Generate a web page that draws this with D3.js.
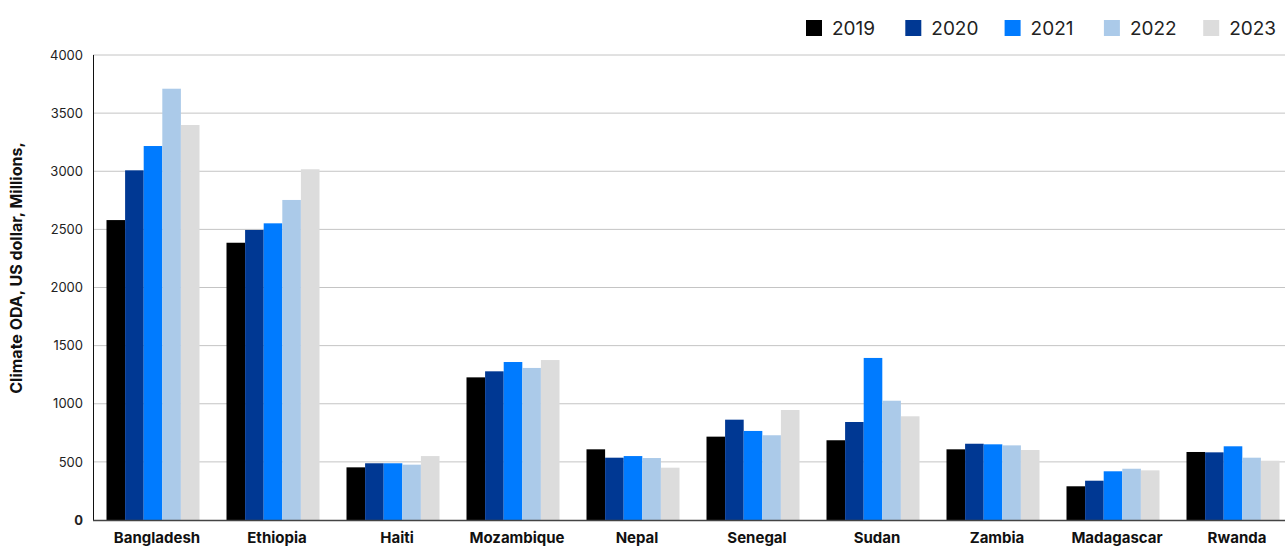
<!DOCTYPE html>
<html>
<head>
<meta charset="utf-8">
<script src="https://cdn.jsdelivr.net/npm/d3@7"></script>
<style>
  html, body { margin: 0; padding: 0; background: #fff; overflow: hidden; }
  svg { display: block; font-family: Inter, "Noto Sans", sans-serif; }
</style>
</head>
<body>
<svg id="chart" width="1285" height="548"></svg>
<script>
// Climate ODA by recipient country, US dollar millions
const countries = ["Bangladesh", "Ethiopia", "Haiti", "Mozambique", "Nepal",
                   "Senegal", "Sudan", "Zambia", "Madagascar", "Rwanda"];
const years = ["2019", "2020", "2021", "2022", "2023"];
const values2019 = [2580, 2385, 453, 1227, 608, 717, 686, 608, 290, 585];
const values2020 = [3008, 2495, 488, 1279, 536, 863, 843, 656, 338, 582];
const values2021 = [3217, 2552, 488, 1359, 550, 766, 1394, 651, 419, 634];
const values2022 = [3710, 2753, 476, 1308, 533, 729, 1026, 642, 441, 536];
const values2023 = [3398, 3017, 550, 1376, 450, 946, 892, 602, 427, 510];
const yTicks = [0, 500, 1000, 1500, 2000, 2500, 3000, 3500, 4000];
const colors = ["#000000", "#003893", "#007bff", "#abcae9", "#dcdcdc"];
const yTitle = "Climate ODA, US dollar, Millions,";

const series = [values2019, values2020, values2021, values2022, values2023];

const svg = d3.select("#chart");
const plotLeft = 93, plotTop = 55, plotBottom = 520, plotRight = 1293;

const x = d3.scaleBand().domain(countries).range([plotLeft, plotRight])
  .paddingInner(0.225).paddingOuter(0.1125);
const xInner = d3.scaleBand().domain(years).range([0, x.bandwidth()]);
const y = d3.scaleLinear().domain([0, 4000]).range([plotBottom, plotTop]);

// gridlines
svg.append("g").selectAll("line").data(yTicks.filter(t => t > 0)).join("line")
  .attr("x1", plotLeft).attr("x2", 1285)
  .attr("y1", d => y(d)).attr("y2", d => y(d))
  .attr("stroke", "#c4c4c4").attr("stroke-width", 1);

// y tick labels
const yAxis = d3.axisLeft(y).tickValues(yTicks).tickFormat(d3.format("d"))
  .tickSize(0).tickPadding(10);
const gy = svg.append("g").attr("transform", `translate(${plotLeft},0)`).call(yAxis);
gy.select(".domain").remove();
gy.selectAll("text")
  .attr("font-family", "Inter, sans-serif")
  .attr("font-size", 13).attr("fill", "#222")
  .attr("font-weight", d => d === 0 ? 700 : 400);

// bars
const groups = svg.append("g").selectAll("g").data(countries).join("g")
  .attr("transform", d => `translate(${x(d)},0)`);
groups.selectAll("rect")
  .data((c, i) => years.map((yr, k) => ({ yr, k, v: series[k][i] })))
  .join("rect")
  .attr("x", d => xInner(d.yr))
  .attr("width", xInner.bandwidth())
  .attr("y", d => y(d.v))
  .attr("height", d => y(0) - y(d.v))
  .attr("fill", d => colors[d.k]);

// axis lines
svg.append("line").attr("x1", plotLeft + 0.5).attr("x2", plotLeft + 0.5)
  .attr("y1", plotTop).attr("y2", plotBottom).attr("stroke", "#111").attr("stroke-width", 1);
svg.append("line").attr("x1", plotLeft).attr("x2", 1285)
  .attr("y1", plotBottom + 0.5).attr("y2", plotBottom + 0.5).attr("stroke", "#444").attr("stroke-width", 1.5);

// category labels
svg.append("g").selectAll("text").data(countries).join("text")
  .attr("x", d => x(d) + x.bandwidth() / 2 + 4)
  .attr("y", 543)
  .attr("text-anchor", "middle")
  .attr("font-size", 15).attr("font-weight", 700).attr("fill", "#111")
  .text(d => d);

// y axis title
svg.append("text")
  .attr("transform", "translate(22,268) rotate(-90)")
  .attr("text-anchor", "middle")
  .attr("font-size", 16).attr("font-weight", 700).attr("fill", "#111")
  .text(yTitle);

// legend
const legend = svg.append("g").selectAll("g").data(years).join("g")
  .attr("transform", (d, i) => `translate(${806 + i * 99.3},20)`);
legend.append("rect").attr("width", 16).attr("height", 16)
  .attr("fill", (d, i) => colors[i]);
legend.append("text").attr("x", 26).attr("y", 15)
  .attr("font-size", 19).attr("fill", "#222")
  .text(d => d);
</script>
</body>
</html>
